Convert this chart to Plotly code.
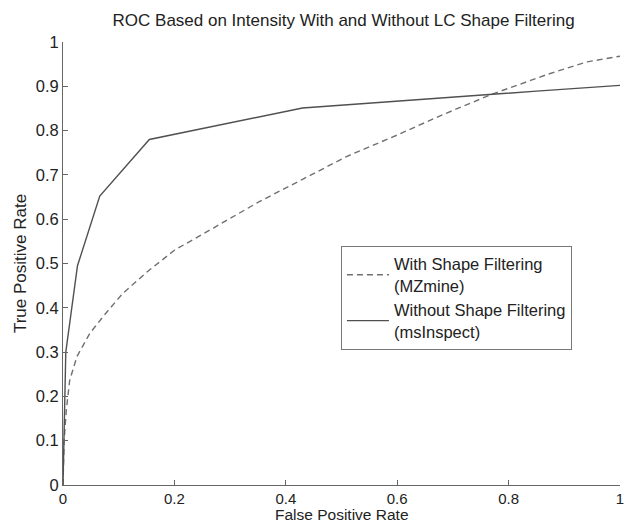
import plotly.graph_objects as go

# Dashed: With Shape Filtering (MZmine)
fpr_mzmine = [0, 0.002, 0.006, 0.012, 0.025, 0.048, 0.075, 0.107, 0.15, 0.2,
              0.27, 0.35, 0.43, 0.51, 0.6, 0.68, 0.77, 0.87, 0.94, 1.0]
tpr_mzmine = [0, 0.10, 0.17, 0.236, 0.29, 0.342, 0.385, 0.432, 0.48, 0.53,
              0.58, 0.638, 0.69, 0.742, 0.79, 0.835, 0.882, 0.927, 0.955, 0.968]

# Solid: Without Shape Filtering (msInspect)
fpr_msinspect = [0, 0.002, 0.005, 0.026, 0.066, 0.155, 0.43, 0.85, 1.0]
tpr_msinspect = [0, 0.10, 0.30, 0.495, 0.652, 0.78, 0.851, 0.889, 0.902]

names = ["With Shape Filtering<br>(MZmine)", "Without Shape Filtering<br>(msInspect)"]
tick_vals_x = [0, 0.2, 0.4, 0.6, 0.8, 1]
tick_text_x = ["0", "0.2", "0.4", "0.6", "0.8", "1"]
tick_vals_y = [0, 0.1, 0.2, 0.3, 0.4, 0.5, 0.6, 0.7, 0.8, 0.9, 1]
tick_text_y = ["0", "0.1", "0.2", "0.3", "0.4", "0.5", "0.6", "0.7", "0.8", "0.9", "1"]

font = "Liberation Sans, Arial, sans-serif"

fig = go.Figure()
fig.add_trace(go.Scatter(x=fpr_mzmine, y=tpr_mzmine, mode="lines", name=names[0],
                         line=dict(color="#707070", width=1.4, dash="6px,4px")))
fig.add_trace(go.Scatter(x=fpr_msinspect, y=tpr_msinspect, mode="lines", name=names[1],
                         line=dict(color="#505050", width=1.4)))

axis_common = dict(range=[0, 1], showgrid=False, zeroline=False, showline=True,
                   linecolor="#666666", linewidth=1, ticks="inside", ticklen=5,
                   tickcolor="#666666", mirror=False, ticklabeloverflow="allow")

fig.update_layout(
    width=627, height=525,
    margin=dict(l=63, r=3, t=42, b=40),
    paper_bgcolor="white", plot_bgcolor="white",
    font=dict(family=font, color="#222222", size=17),
    title=dict(text="ROC Based on Intensity With and Without LC Shape Filtering",
               x=0.548, xanchor="center", y=0.962, yanchor="middle",
               font=dict(size=17, family=font, color="#222222")),
    xaxis=dict(**axis_common, tickvals=tick_vals_x, ticktext=tick_text_x,
               tickfont=dict(size=15, color="#222222", family=font)),
    yaxis=dict(**axis_common, tickvals=tick_vals_y, ticktext=tick_text_y,
               tickfont=dict(size=16.5, color="#222222", family=font),
               title=dict(text="True Positive Rate", standoff=4, font=dict(size=17))),
    annotations=[dict(text="False Positive Rate", xref="paper", yref="paper",
                      x=0.5, y=-0.0905, xanchor="center", yanchor="bottom",
                      showarrow=False, font=dict(size=15.5, family=font, color="#222222"))],
    legend=dict(x=0.499, y=0.54, xanchor="left", yanchor="top",
                bordercolor="#777777", borderwidth=1, bgcolor="white",
                font=dict(size=16.5, family=font, color="#222222"),
                tracegroupgap=0, itemwidth=42),
    showlegend=True,
)

fig.write_html("out.html")
